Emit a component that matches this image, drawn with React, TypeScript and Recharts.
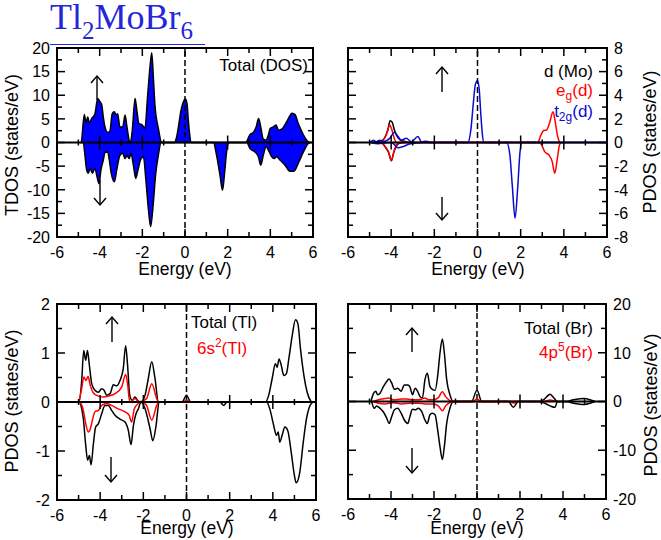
import React from "react";
import {
  Area,
  ComposedChart,
  Line,
  ReferenceArea,
  ReferenceLine,
  XAxis,
  YAxis,
} from "recharts";

type Pair = [number, number];

// energy ticks (eV): one per eV, labelled every 2
const E_TICKS = [-6, -5, -4, -3, -2, -1, 0, 1, 2, 3, 4, 5, 6];

const TDOS_TICKS = [-20, -17.5, -15, -12.5, -10, -7.5, -5, -2.5, 0, 2.5, 5, 7.5, 10, 12.5, 15, 17.5, 20];
const MO_TICKS = [-8, -7, -6, -5, -4, -3, -2, -1, 0, 1, 2, 3, 4, 5, 6, 7, 8];
const TL_TICKS = [-2, -1.5, -1, -0.5, 0, 0.5, 1, 1.5, 2];
const BR_TICKS = [-20, -15, -10, -5, 0, 5, 10, 15, 20];

// Total DOS, spin up / spin down  [energy, states/eV]
const TDOS_UP: Pair[] = [
  [-4.9, 0], [-4.87, 0], [-4.72, 5.9], [-4.64, 4.2], [-4.56, 5.4], [-4.48, 4.2], [-4.37, 5.1],
  [-4.22, 6.1], [-4.09, 9.3], [-3.98, 8.6], [-3.9, 7.9], [-3.83, 5.4], [-3.75, 3.3], [-3.62, 2.1],
  [-3.52, 2.4], [-3.41, 6.1], [-3.31, 6.5], [-3.23, 5.8], [-3.16, 6.1], [-3.05, 3.3], [-2.92, 3.3],
  [-2.81, 5.8], [-2.72, 3.3], [-2.62, 0.5], [-2.56, 0], [-2.47, 2.6], [-2.34, 9.3], [-2.25, 6.5],
  [-2.16, 4.0], [-2.0, 3.7], [-1.88, 3.0], [-1.75, 10], [-1.64, 16], [-1.56, 19], [-1.48, 13.5],
  [-1.41, 7.9], [-1.25, 3], [-1.09, 0], [-0.5, 0], [-0.4, 1.0], [-0.3, 3.5], [-0.2, 6.5],
  [-0.1, 8.3], [0, 9.2], [0.05, 9.0], [0.1, 8.0], [0.15, 5], [0.2, 2.5], [0.3, 0], [2.84, 0],
  [3.05, 1.7], [3.2, 2.1], [3.33, 3.2], [3.45, 5.1], [3.55, 3.3], [3.67, 0.7], [3.8, 0.5],
  [3.9, 1.5], [4.0, 3], [4.14, 3.3], [4.27, 3.7], [4.38, 2.6], [4.53, 2.8], [4.77, 4.4],
  [5.02, 6.2], [5.16, 5.9], [5.31, 4.0], [5.52, 1.9], [5.7, 0.5], [5.83, 0],
];
const TDOS_DN: Pair[] = [
  [-4.9, 0], [-4.77, 0], [-4.69, -2.7], [-4.61, -5.8], [-4.53, -6.5], [-4.45, -5.5], [-4.34, -6.5],
  [-4.22, -5.5], [-4.12, -7.3], [-4.03, -8.7], [-3.94, -5.8], [-3.83, -3.7], [-3.75, -2.1],
  [-3.62, -2.0], [-3.55, -3.7], [-3.44, -6.9], [-3.31, -8.3], [-3.2, -5.8], [-3.05, -2.7],
  [-2.92, -2.3], [-2.81, -3.4], [-2.72, -2.7], [-2.62, -3.4], [-2.53, -2.3], [-2.42, -4.8],
  [-2.31, -7.6], [-2.19, -5.5], [-2.06, -3.4], [-1.95, -3.0], [-1.84, -7.6], [-1.72, -13.9],
  [-1.61, -17.8], [-1.48, -12.5], [-1.38, -6.9], [-1.25, -2.7], [-1.12, 0], [1.33, 0],
  [1.48, -2.7], [1.64, -6.9], [1.76, -10.1], [1.86, -6.2], [1.95, -2], [2.03, 0], [2.89, 0],
  [3.05, -1.3], [3.28, -2], [3.44, -3], [3.55, -4.8], [3.67, -2.7], [3.8, -0.9], [3.95, -2],
  [4.06, -3], [4.17, -3.4], [4.3, -3], [4.45, -3.7], [4.69, -4.8], [4.92, -6.1], [5.11, -6.1],
  [5.31, -4.4], [5.55, -2], [5.78, -0.2], [5.85, 0],
];

// Mo d, e_g(d), t_2g(d)
const MOD_UP: Pair[] = [
  [-4.9, 0], [-4.5, 0.1], [-4.3, 0.4], [-4.15, 1.1], [-4.05, 1.85], [-3.95, 1.7], [-3.85, 1.05],
  [-3.75, 0.6], [-3.6, 0.25], [-3.4, 0.1], [-3.2, 0],
];
const MOD_DN: Pair[] = [
  [-4.9, 0], [-4.46, 0], [-4.27, -0.4], [-4.12, -0.85], [-3.99, -1.55], [-3.88, -0.85],
  [-3.76, -0.3], [-3.6, -0.05], [-3.4, 0],
];
const EG_UP: Pair[] = [
  [-4.53, 0], [-4.33, 0.3], [-4.18, 0.86], [-4.07, 1.5], [-3.99, 1.2], [-3.88, 0.5], [-3.76, 0],
  [2.79, 0], [2.94, 0.64], [3.05, 1.0], [3.2, 1.06], [3.33, 1.6], [3.5, 2.6], [3.6, 1.77],
  [3.7, 0.64], [3.8, 0],
];
const EG_DN: Pair[] = [
  [-4.46, 0], [-4.27, -0.35], [-4.12, -0.8], [-3.99, -1.5], [-3.88, -0.8], [-3.76, -0.2],
  [-3.6, 0], [2.88, 0], [2.97, -0.2], [3.12, -0.8], [3.31, -1.06], [3.46, -1.6], [3.58, -2.6],
  [3.7, -1.35], [3.8, -0.2], [3.88, 0],
];
const T2G_UP: Pair[] = [
  [-4.95, 0], [-4.84, 0.2], [-4.69, 0.07], [-4.53, 0.2], [-4.3, 0.1], [-4.07, 0.35],
  [-3.84, 0.86], [-3.68, 0.5], [-3.53, 0.2], [-3.3, 0.35], [-3.07, 0.07], [-2.76, 0.5],
  [-2.6, 0.07], [-2.37, 0.1], [-2.14, 0], [-0.45, 0], [-0.3, 1.2], [-0.2, 3.2], [-0.1, 4.9],
  [0, 5.25], [0.08, 4.5], [0.15, 2.5], [0.22, 0.8], [0.3, 0], [6, 0],
];
const T2G_DN: Pair[] = [
  [-4.95, 0], [-4.6, -0.1], [-4.3, -0.05], [-4.0, 0], [-3.84, -0.2], [-3.68, -0.45],
  [-3.45, -0.35], [-3.2, -0.15], [-2.9, -0.05], [-2.6, 0], [1.35, 0], [1.5, -1.06],
  [1.61, -3.6], [1.74, -6.4], [1.86, -3.9], [1.97, -0.8], [2.05, 0], [6, 0],
];

// Tl total and 6s^2
const TL_UP: Pair[] = [
  [-5.0, 0], [-4.98, 0], [-4.86, 0.41], [-4.76, 1.05], [-4.67, 0.85], [-4.59, 1.05], [-4.5, 0.75],
  [-4.39, 0.37], [-4.24, 0.24], [-4.08, 0.2], [-3.93, 0.27], [-3.82, 0.24], [-3.7, 0.14],
  [-3.54, 0.17], [-3.39, 0.35], [-3.24, 0.33], [-3.08, 0.44], [-2.93, 0.68], [-2.82, 1.15],
  [-2.73, 0.75], [-2.63, 0.14], [-2.51, 0.03], [-2.39, 0.1], [-2.26, 0.03], [-2.11, 0],
  [-1.92, 0.14], [-1.77, 0.48], [-1.61, 0.82], [-1.46, 0.48], [-1.3, 0], [-0.2, 0], [0, 0.14],
  [0.19, 0], [3.66, 0], [3.81, 0.14], [3.97, 0.48], [4.12, 0.78], [4.2, 0.71], [4.29, 0.88],
  [4.39, 0.75], [4.51, 0.54], [4.63, 0.58], [4.74, 0.88], [4.9, 1.36], [5.05, 1.68],
  [5.16, 1.6], [5.28, 1.09], [5.44, 0.54], [5.59, 0.2], [5.78, 0],
];
const TL_DN: Pair[] = [
  [-4.93, 0], [-4.78, -0.34], [-4.67, -0.88], [-4.58, -1.19], [-4.5, -1.09], [-4.42, -1.28],
  [-4.32, -0.88], [-4.21, -0.51], [-4.08, -0.44], [-3.93, -0.24], [-3.78, -0.07], [-3.62, -0.07],
  [-3.47, -0.17], [-3.31, -0.27], [-3.08, -0.35], [-2.85, -0.41], [-2.69, -0.59], [-2.57, -0.87],
  [-2.46, -0.48], [-2.34, -0.24], [-2.23, -0.14], [-2.11, 0], [-1.92, -0.14], [-1.69, -0.54],
  [-1.56, -0.79], [-1.41, -0.48], [-1.27, 0], [1.54, 0], [1.73, -0.07], [1.88, 0], [3.71, 0],
  [3.86, -0.14], [4.02, -0.44], [4.17, -0.68], [4.25, -0.61], [4.32, -0.82], [4.43, -0.68],
  [4.56, -0.51], [4.69, -0.58], [4.85, -1.02], [5.0, -1.5], [5.08, -1.65], [5.25, -1.43],
  [5.41, -0.82], [5.56, -0.34], [5.78, -0.03], [5.9, 0],
];
const TLS_UP: Pair[] = [
  [-4.98, 0], [-4.86, 0.27], [-4.75, 0.51], [-4.66, 0.44], [-4.56, 0.52], [-4.46, 0.34],
  [-4.32, 0.19], [-4.08, 0.12], [-3.85, 0.1], [-3.62, 0.12], [-3.31, 0.17], [-3.0, 0.31],
  [-2.82, 0.56], [-2.73, 0.37], [-2.63, 0], [-2.39, 0.07], [-2.2, 0], [-1.85, 0.07],
  [-1.61, 0.37], [-1.38, 0.07], [-1.3, 0], [-0.15, 0], [0, 0.04], [0.15, 0],
];
const TLS_DN: Pair[] = [
  [-4.93, 0], [-4.78, -0.17], [-4.67, -0.44], [-4.55, -0.61], [-4.45, -0.54], [-4.36, -0.37],
  [-4.24, -0.2], [-4.08, -0.17], [-3.93, -0.07], [-3.7, -0.03], [-3.47, -0.07], [-3.16, -0.14],
  [-2.85, -0.2], [-2.66, -0.27], [-2.54, -0.41], [-2.42, -0.14], [-2.23, -0.03], [-2.11, 0],
  [-1.85, -0.07], [-1.61, -0.37], [-1.38, -0.07], [-1.3, 0],
];

// Br total and 4p^5
const BR_UP: Pair[] = [
  [-4.93, 0], [-4.82, 1.6], [-4.71, 2.1], [-4.62, 1.4], [-4.51, 1.7], [-4.36, 3.0], [-4.2, 4.1],
  [-4.09, 4.6], [-3.97, 3.8], [-3.84, 2.5], [-3.69, 2.7], [-3.53, 2.1], [-3.38, 3.4],
  [-3.22, 3.4], [-3.12, 3.0], [-3.0, 1.4], [-2.88, 2.7], [-2.76, 2.1], [-2.65, 1.0], [-2.54, 0.7],
  [-2.42, 4.5], [-2.31, 5.8], [-2.19, 3.1], [-2.08, 2.5], [-1.95, 2.3], [-1.83, 5.2],
  [-1.72, 10], [-1.61, 12.8], [-1.52, 10], [-1.41, 4.5], [-1.26, 1.4], [-1.1, 0], [-0.25, 0],
  [0, 2.3], [0.22, 0], [2.85, 0], [3.09, 0.35], [3.4, 1.5], [3.58, 0.7], [3.74, 0], [4.17, 0],
  [4.48, 0.35], [4.79, 0.55], [5.02, 0.6], [5.26, 0.35], [5.49, 0],
];
const BR_DN: Pair[] = [
  [-4.9, 0], [-4.78, -1.4], [-4.67, -0.9], [-4.51, -1.4], [-4.36, -2.1], [-4.2, -3.4],
  [-4.09, -4.5], [-3.97, -3.1], [-3.84, -1.7], [-3.69, -1.4], [-3.53, -2.4], [-3.38, -3.8],
  [-3.22, -4.5], [-3.12, -3.1], [-3.0, -1.6], [-2.88, -1.7], [-2.73, -1.4], [-2.57, -2.1],
  [-2.42, -3.8], [-2.31, -4.5], [-2.19, -2.7], [-2.08, -2.4], [-1.95, -2.7], [-1.83, -5.8],
  [-1.72, -9.3], [-1.61, -11.9], [-1.52, -9.3], [-1.41, -4.5], [-1.26, -1.4], [-1.1, 0],
  [1.46, 0], [1.69, -1.2], [1.92, 0], [2.85, 0], [3.15, -0.35], [3.4, -0.9], [3.63, -1.2],
  [3.74, 0], [4.17, 0], [4.48, -0.35], [4.79, -0.55], [5.02, -0.6], [5.26, -0.35], [5.49, 0],
];
const BRP_UP: Pair[] = [
  [-4.82, 0], [-4.59, 0.35], [-4.28, 0.6], [-4.12, 0.7], [-3.89, 0.35], [-3.5, 0.5],
  [-3.27, 0.5], [-2.96, 0.35], [-2.73, 0.35], [-2.42, 0.7], [-2.26, 0.35], [-2.03, 0.35],
  [-1.8, 0.8], [-1.61, 2.0], [-1.46, 1.0], [-1.26, 0.2], [-1.15, 0], [-0.2, 0], [0, 0.5],
  [0.2, 0], [3.1, 0], [3.4, 0.3], [3.7, 0],
];
const BRP_DN: Pair[] = [
  [-4.82, 0], [-4.59, -0.35], [-4.28, -0.5], [-3.9, -0.25], [-3.5, -0.5], [-3.1, -0.35],
  [-2.73, -0.35], [-2.42, -0.5], [-2.03, -0.5], [-1.8, -0.9], [-1.61, -1.9], [-1.46, -0.9],
  [-1.26, -0.2], [-1.15, 0], [1.5, 0], [1.7, -0.3], [1.9, 0],
];

const pts = (p: Pair[]) => p.map(([e, v]) => ({ e, v }));

const W = 661;
const H = 540;
const AXIS_W = 40;
const AXIS_H = 30;
const FONT = '"Liberation Sans", Arial, Helvetica, sans-serif';
const RED = "#ff0000";
const BLUE = "#0000ff";
const DBLUE = "#0a0ad0";

function XTick(props: any) {
  const { x, y, payload, plotH } = props;
  const v = payload.value as number;
  const major = v % 2 === 0;
  const len = major ? 8 : 5;
  const cross = major ? 7 : 3;
  const mid = y - plotH / 2;
  return (
    <g stroke="#000" strokeWidth={1.5}>
      <line x1={x} y1={y} x2={x} y2={y - len} />
      <line x1={x} y1={y - plotH} x2={x} y2={y - plotH + len} />
      {v !== 0 && Math.abs(v) < 6 && <line x1={x} y1={mid - cross} x2={x} y2={mid + cross} />}
      {major && (
        <text x={x} y={y + 21} textAnchor="middle" stroke="none" fill="#000" fontSize={16} fontFamily={FONT}>
          {v}
        </text>
      )}
    </g>
  );
}

function YTick(props: any) {
  const { x, y, payload, plotW, right, step } = props;
  const v = payload.value as number;
  const q = v / step;
  const major = Math.abs(q - Math.round(q)) < 1e-6;
  const len = major ? 8 : 5;
  const d = right ? -1 : 1;
  const far = x + d * plotW;
  return (
    <g stroke="#000" strokeWidth={1.5}>
      <line x1={x} y1={y} x2={x + d * len} y2={y} />
      <line x1={far} y1={y} x2={far - d * len} y2={y} />
      {major && (
        <text
          x={x - d * 7}
          y={y}
          dy="0.36em"
          textAnchor={right ? "start" : "end"}
          stroke="none"
          fill="#000"
          fontSize={16}
          fontFamily={FONT}
        >
          {v}
        </text>
      )}
    </g>
  );
}

type Rect = { l: number; t: number; r: number; b: number };

function Panel({
  rect,
  yDomain,
  yTicks,
  yStep,
  right,
  children,
}: {
  rect: Rect;
  yDomain: [number, number];
  yTicks: number[];
  yStep: number;
  right?: boolean;
  children: React.ReactNode;
}) {
  const plotW = rect.r - rect.l;
  const plotH = rect.b - rect.t;
  const margin = {
    top: rect.t,
    bottom: H - rect.b - AXIS_H,
    left: right ? rect.l : rect.l - AXIS_W,
    right: right ? W - rect.r - AXIS_W : W - rect.r,
  };
  return (
    <div style={{ position: "absolute", left: 0, top: 0 }}>
      <ComposedChart width={W} height={H} margin={margin}>
        <XAxis
          type="number"
          dataKey="e"
          domain={[-6, 6]}
          ticks={E_TICKS}
          interval={0}
          allowDataOverflow
          height={AXIS_H}
          axisLine={false}
          tickLine={false}
          tickSize={0}
          tickMargin={0}
          tick={(p: any) => <XTick {...p} plotH={plotH} />}
        />
        <YAxis
          type="number"
          dataKey="v"
          domain={yDomain}
          ticks={yTicks}
          interval={0}
          allowDataOverflow
          width={AXIS_W}
          orientation={right ? "right" : "left"}
          axisLine={false}
          tickLine={false}
          tickSize={0}
          tickMargin={0}
          tick={(p: any) => <YTick {...p} plotW={plotW} right={right} step={yStep} />}
        />
        <ReferenceLine x={0} stroke="#000" strokeWidth={1.5} strokeDasharray="6 3" />
        {children}
        <ReferenceLine y={0} stroke="#000" strokeWidth={2} />
        <ReferenceArea x1={-6} x2={6} y1={yDomain[0]} y2={yDomain[1]} fill="none" stroke="#000" strokeWidth={2} />
      </ComposedChart>
    </div>
  );
}

function Arrow({ x, top, bottom, up }: { x: number; top: number; bottom: number; up: boolean }) {
  const tip = up ? top : bottom;
  const s = up ? 1 : -1;
  return (
    <g stroke="#000" strokeWidth={1.4} fill="none">
      <line x1={x} y1={top} x2={x} y2={bottom} />
      <polyline points={`${x - 6},${tip + s * 7} ${x},${tip} ${x + 6},${tip + s * 7}`} />
    </g>
  );
}

const line = (data: Pair[], color: string, key: string) => (
  <Line
    key={key}
    data={pts(data)}
    dataKey="v"
    type="monotone"
    stroke={color}
    strokeWidth={1.5}
    dot={false}
    isAnimationActive={false}
  />
);

export default function App() {
  const txt = { fontFamily: FONT, fill: "#000" } as const;
  return (
    <div style={{ position: "absolute", left: 0, top: 0, width: W, height: H, background: "#fff" }}>
      <Panel rect={{ l: 57, t: 48, r: 313, b: 237 }} yDomain={[-20, 20]} yTicks={TDOS_TICKS} yStep={5}>
        <Area
          data={pts(TDOS_UP)}
          dataKey="v"
          type="monotone"
          baseValue={0}
          stroke="#000"
          strokeWidth={1.5}
          fill={BLUE}
          fillOpacity={1}
          isAnimationActive={false}
        />
        <Area
          data={pts(TDOS_DN)}
          dataKey="v"
          type="monotone"
          baseValue={0}
          stroke="#000"
          strokeWidth={1.5}
          fill={BLUE}
          fillOpacity={1}
          isAnimationActive={false}
        />
      </Panel>
      <Panel rect={{ l: 348, t: 48, r: 607, b: 237 }} yDomain={[-8, 8]} yTicks={MO_TICKS} yStep={2} right>
        {line(MOD_UP, "#000", "modu")}
        {line(MOD_DN, "#000", "modd")}
        {line(EG_UP, RED, "egu")}
        {line(EG_DN, RED, "egd")}
        {line(T2G_UP, DBLUE, "t2u")}
        {line(T2G_DN, DBLUE, "t2d")}
      </Panel>
      <Panel rect={{ l: 57, t: 304, r: 316, b: 500 }} yDomain={[-2, 2]} yTicks={TL_TICKS} yStep={1}>
        {line(TL_UP, "#000", "tlu")}
        {line(TL_DN, "#000", "tld")}
        {line(TLS_UP, RED, "tlsu")}
        {line(TLS_DN, RED, "tlsd")}
      </Panel>
      <Panel rect={{ l: 348, t: 304, r: 606, b: 499 }} yDomain={[-20, 20]} yTicks={BR_TICKS} yStep={10} right>
        {line(BR_UP, "#000", "bru")}
        {line(BR_DN, "#000", "brd")}
        {line(BRP_UP, RED, "brpu")}
        {line(BRP_DN, RED, "brpd")}
      </Panel>

      <svg width={W} height={H} style={{ position: "absolute", left: 0, top: 0, pointerEvents: "none" }}>
        <text x={50} y={29} fontFamily='"Liberation Serif", "Times New Roman", serif' fontSize={36} fill="#2626d9">
          Tl<tspan fontSize={25} dy={10}>2</tspan>
          <tspan dy={-10}>MoBr</tspan>
          <tspan fontSize={25} dy={10}>6</tspan>
        </text>
        <line x1={50} y1={44.5} x2={205} y2={44.5} stroke="#2626d9" strokeWidth={1} />

        {/* axis titles */}
        <text {...txt} fontSize={18} textAnchor="middle" dominantBaseline="central" transform="translate(12,145) rotate(-90)">
          TDOS (states/eV)
        </text>
        <text {...txt} fontSize={18} textAnchor="middle" dominantBaseline="central" transform="translate(650,142) rotate(-90)">
          PDOS (states/eV)
        </text>
        <text {...txt} fontSize={18} textAnchor="middle" dominantBaseline="central" transform="translate(12,401) rotate(-90)">
          PDOS (states/eV)
        </text>
        <text {...txt} fontSize={18} textAnchor="middle" dominantBaseline="central" transform="translate(651,405) rotate(-90)">
          PDOS (states/eV)
        </text>
        <text {...txt} fontSize={17.5} textAnchor="middle" x={185} y={275}>Energy (eV)</text>
        <text {...txt} fontSize={17.5} textAnchor="middle" x={478} y={275}>Energy (eV)</text>
        <text {...txt} fontSize={17.5} textAnchor="middle" x={187} y={534}>Energy (eV)</text>
        <text {...txt} fontSize={17.5} textAnchor="middle" x={477} y={534}>Energy (eV)</text>

        {/* legends */}
        <text {...txt} fontSize={17} textAnchor="end" x={308} y={71}>Total (DOS)</text>
        <text {...txt} fontSize={17} textAnchor="end" x={593} y={77}>d (Mo)</text>
        <text {...txt} fill={RED} fontSize={17} textAnchor="end" x={593} y={96}>
          e<tspan fontSize={12} dy={4}>g</tspan>
          <tspan dy={-4}>(d)</tspan>
        </text>
        <text {...txt} fill={DBLUE} fontSize={17} textAnchor="end" x={593} y={117}>
          t<tspan fontSize={12} dy={4}>2g</tspan>
          <tspan dy={-4}>(d)</tspan>
        </text>
        <text {...txt} fontSize={17} textAnchor="middle" x={224} y={328}>Total (Tl)</text>
        <text {...txt} fill={RED} fontSize={17} textAnchor="middle" x={222} y={354}>
          6s<tspan fontSize={12} dy={-7}>2</tspan>
          <tspan dy={7}>(Tl)</tspan>
        </text>
        <text {...txt} fontSize={17} textAnchor="end" x={593} y={334}>Total (Br)</text>
        <text {...txt} fill={RED} fontSize={17} textAnchor="end" x={593} y={358}>
          4p<tspan fontSize={12} dy={-7}>5</tspan>
          <tspan dy={7}>(Br)</tspan>
        </text>

        {/* spin arrows */}
        <Arrow x={97} top={76} bottom={100} up />
        <Arrow x={100} top={180} bottom={205} up={false} />
        <Arrow x={442} top={67} bottom={92} up />
        <Arrow x={442} top={197} bottom={220} up={false} />
        <Arrow x={112} top={317} bottom={342} up />
        <Arrow x={111} top={457} bottom={482} up={false} />
        <Arrow x={412} top={328} bottom={352} up />
        <Arrow x={412} top={448} bottom={473} up={false} />
      </svg>
    </div>
  );
}
